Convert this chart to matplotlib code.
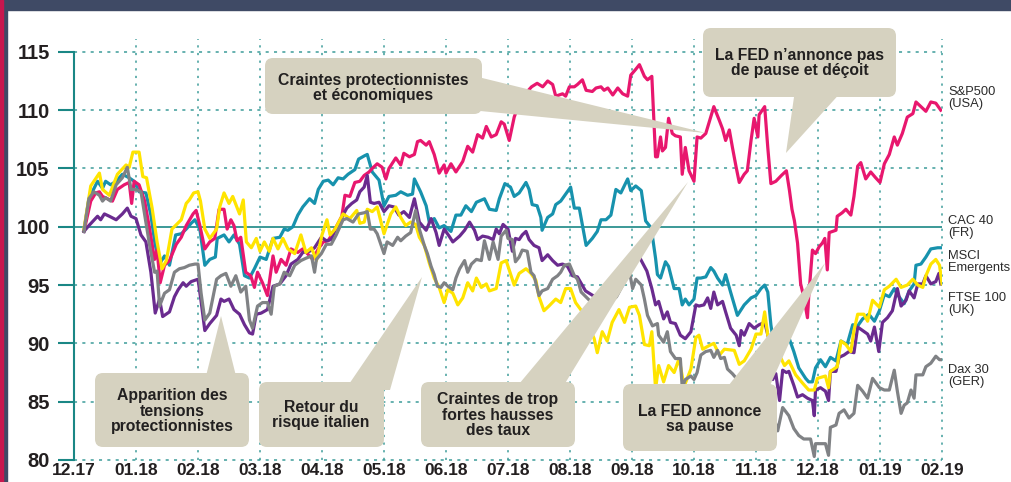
import matplotlib
matplotlib.use('Agg')
import matplotlib.pyplot as plt
from matplotlib.patches import Rectangle, FancyBboxPatch, Polygon
from matplotlib.transforms import Affine2D

plt.rcParams['font.family'] = ['Liberation Sans', 'DejaVu Sans']
plt.rcParams['lines.scale_dashes'] = False

# months since 12.17
month_labels = ['12.17', '01.18', '02.18', '03.18', '04.18', '05.18', '06.18', '07.18',
                '08.18', '09.18', '10.18', '11.18', '12.18', '01.19', '02.19']
y_ticks = [80, 85, 90, 95, 100, 105, 110, 115]

# S&P500 (USA)
sp_t = [0.16, 0.27, 0.35, 0.41, 0.46, 0.54, 0.62, 0.70, 0.81, 0.89, 0.93, 0.97, 1.05, 1.14, 1.22, 1.30, 1.34, 1.39,
        1.46, 1.54, 1.65, 1.73, 1.81, 1.92, 1.97, 2.03, 2.11, 2.19, 2.27, 2.34, 2.42, 2.47, 2.53, 2.58, 2.63, 2.69,
        2.77, 2.85, 2.91, 2.96, 3.04, 3.12, 3.21, 3.26, 3.34, 3.42, 3.50, 3.61, 3.69, 3.80, 3.85, 3.94, 4.02, 4.10,
        4.21, 4.32, 4.37, 4.45, 4.53, 4.61, 4.68, 4.76, 4.81, 4.89, 4.97, 5.03, 5.08, 5.19, 5.27, 5.32, 5.41, 5.49,
        5.54, 5.59, 5.68, 5.73, 5.81, 5.89, 5.97, 6.00, 6.08, 6.16, 6.27, 6.35, 6.43, 6.51, 6.59, 6.65, 6.73, 6.81,
        6.89, 6.94, 7.02, 7.10, 7.18, 7.26, 7.38, 7.47, 7.56, 7.64, 7.72, 7.77, 7.88, 7.93, 7.99, 8.07, 8.12, 8.20,
        8.26, 8.36, 8.42, 8.50, 8.55, 8.61, 8.69, 8.77, 8.85, 8.93, 8.98, 9.06, 9.12, 9.20, 9.25, 9.32, 9.38, 9.41,
        9.46, 9.49, 9.54, 9.59, 9.65, 9.70, 9.78, 9.81, 9.86, 9.92, 10.00, 10.05, 10.11, 10.19, 10.27, 10.32, 10.41,
        10.46, 10.51, 10.57, 10.62, 10.68, 10.73, 10.81, 10.86, 10.92, 10.97, 11.03, 11.05, 11.14, 11.19, 11.24,
        11.32, 11.41, 11.49, 11.54, 11.58, 11.62, 11.67, 11.72, 11.77, 11.83, 11.85, 11.91, 11.96, 12.02, 12.07,
        12.11, 12.15, 12.18, 12.29, 12.31, 12.39, 12.45, 12.53, 12.58, 12.64, 12.69, 12.77, 12.85, 12.93, 13.00,
        13.07, 13.15, 13.23, 13.28, 13.36, 13.44, 13.53, 13.58, 13.66, 13.74, 13.82, 13.90, 13.98]
sp_v = [99.6, 102.2, 102.9, 103.0, 102.6, 102.4, 102.2, 103.2, 103.6, 103.8, 102.0, 103.9, 103.6, 102.2, 99.8, 97.2,
        98.0, 95.2, 96.7, 97.1, 98.5, 99.1, 100.1, 101.1, 101.4, 100.1, 98.1, 98.7, 99.0, 101.5, 101.5, 99.8, 100.6,
        100.1, 98.8, 99.1, 96.1, 95.8, 94.8, 96.1, 95.2, 94.1, 97.5, 96.1, 97.2, 96.7, 98.1, 97.8, 98.1, 97.5, 97.2,
        98.1, 98.7, 98.8, 99.8, 100.9, 102.7, 102.6, 103.8, 103.9, 104.4, 104.7, 105.0, 105.4, 105.1, 104.1, 105.0,
        105.9, 105.3, 106.3, 106.0, 106.2, 107.3, 107.4, 107.0, 107.3, 106.2, 104.6, 105.3, 104.6, 105.4, 104.7,
        105.6, 106.9, 106.4, 107.9, 107.6, 108.6, 107.7, 107.9, 109.0, 108.8, 107.4, 109.4, 110.6, 111.3, 112.0,
        112.3, 112.0, 112.5, 112.2, 111.2, 111.4, 111.2, 112.0, 112.0, 112.2, 112.6, 111.7, 111.6, 111.9, 112.0,
        111.7, 111.9, 111.3, 111.9, 111.4, 111.2, 113.0, 113.5, 113.9, 112.9, 112.6, 112.9, 106.0, 106.0, 107.7,
        106.5, 106.8, 109.3, 108.0, 107.8, 107.7, 104.5, 106.8, 104.8, 103.9, 107.7, 107.6, 108.0, 109.4, 110.3,
        109.1, 108.4, 107.4, 108.3, 106.8, 105.1, 103.8, 104.5, 104.8, 107.4, 109.3, 107.7, 109.6, 110.3, 106.8,
        103.7, 103.9, 104.4, 104.8, 103.1, 101.5, 100.5, 98.6, 95.1, 94.0, 92.2, 94.0, 98.0, 97.7, 98.3, 98.6, 99.0,
        96.3, 99.5, 99.7, 100.9, 101.2, 101.5, 101.0, 102.6, 105.2, 105.5, 104.1, 104.7, 104.2, 103.8, 105.4, 106.2,
        107.7, 107.0, 108.0, 109.4, 109.7, 110.7, 110.3, 109.9, 110.7, 110.6, 110.0]

# CAC 40 (FR)
cac_t = [0.16, 0.24, 0.38, 0.46, 0.51, 0.59, 0.68, 0.78, 0.89, 0.97, 1.05, 1.16, 1.24, 1.31, 1.39, 1.46, 1.54, 1.64,
         1.73, 1.81, 1.89, 1.95, 2.03, 2.11, 2.19, 2.28, 2.31, 2.42, 2.50, 2.58, 2.67, 2.75, 2.83, 2.91, 3.00, 3.10,
         3.21, 3.32, 3.39, 3.45, 3.53, 3.61, 3.69, 3.80, 3.88, 3.94, 4.02, 4.10, 4.18, 4.26, 4.34, 4.42, 4.53, 4.59,
         4.69, 4.73, 4.81, 4.92, 5.00, 5.08, 5.19, 5.27, 5.38, 5.46, 5.49, 5.59, 5.68, 5.73, 5.81, 5.89, 5.97, 6.08,
         6.16, 6.24, 6.32, 6.41, 6.49, 6.62, 6.70, 6.81, 6.86, 6.95, 7.04, 7.10, 7.18, 7.29, 7.34, 7.39, 7.47, 7.53,
         7.55, 7.64, 7.72, 7.77, 7.85, 7.93, 8.01, 8.07, 8.15, 8.26, 8.36, 8.44, 8.50, 8.58, 8.66, 8.74, 8.82, 8.93,
         8.98, 9.06, 9.15, 9.22, 9.31, 9.38, 9.41, 9.46, 9.54, 9.59, 9.68, 9.76, 9.81, 9.86, 9.92, 10.00, 10.05,
         10.11, 10.19, 10.27, 10.32, 10.38, 10.46, 10.51, 10.59, 10.70, 10.81, 10.92, 11.00, 11.08, 11.14, 11.19,
         11.24, 11.30, 11.41, 11.53, 11.61, 11.69, 11.80, 11.85, 11.91, 11.96, 12.04, 12.12, 12.20, 12.29, 12.37,
         12.47, 12.56, 12.64, 12.72, 12.82, 12.91, 12.99, 13.07, 13.15, 13.23, 13.28, 13.39, 13.47, 13.55, 13.58,
         13.66, 13.74, 13.82, 13.93, 14.00]
cac_v = [99.6, 102.4, 103.9, 103.3, 103.9, 103.6, 103.9, 104.5, 104.2, 103.9, 103.0, 102.9, 101.0, 98.4, 96.9, 97.5,
         96.7, 99.3, 99.4, 99.8, 100.3, 100.6, 99.8, 96.7, 97.2, 97.4, 99.0, 99.3, 98.7, 99.3, 98.5, 95.8, 95.6, 96.4,
         97.4, 97.2, 99.0, 99.1, 99.8, 99.7, 100.0, 101.0, 101.7, 102.4, 102.0, 103.2, 103.9, 104.0, 103.6, 104.2,
         104.1, 104.5, 104.9, 105.8, 106.1, 106.2, 104.7, 104.0, 101.8, 102.6, 102.7, 103.0, 102.7, 102.8, 104.1,
         103.0, 101.8, 100.4, 100.7, 99.9, 100.1, 99.6, 101.0, 101.0, 101.8, 101.3, 102.1, 102.4, 101.5, 101.4, 102.4,
         103.7, 103.4, 102.6, 102.9, 103.8, 103.2, 101.9, 101.8, 100.8, 99.7, 100.8, 101.1, 101.9, 102.2, 102.8,
         103.4, 101.6, 101.6, 98.4, 99.0, 99.6, 100.6, 100.6, 101.0, 103.2, 102.9, 104.1, 103.1, 103.5, 103.1, 100.5,
         99.9, 97.3, 95.9, 95.6, 97.0, 96.6, 94.7, 94.7, 93.3, 93.8, 93.3, 93.8, 95.6, 95.6, 95.7, 96.5, 96.2, 95.6,
         95.0, 95.9, 94.4, 92.4, 93.3, 93.9, 94.1, 94.7, 95.0, 94.4, 91.6, 89.5, 90.4, 90.5, 89.3, 87.9, 87.0, 86.7,
         86.7, 87.9, 88.6, 88.0, 88.8, 88.5, 90.2, 89.9, 91.6, 91.5, 92.1, 92.5, 91.9, 92.8, 94.2, 94.0, 94.7, 94.2,
         93.4, 94.5, 95.1, 96.7, 96.8, 97.4, 98.1, 98.2, 98.2]

# MSCI Emergents
msci_t = [0.16, 0.27, 0.41, 0.46, 0.57, 0.70, 0.84, 0.89, 0.95, 1.05, 1.11, 1.17, 1.26, 1.34, 1.42, 1.49, 1.58, 1.73,
          1.81, 1.86, 1.93, 2.00, 2.04, 2.11, 2.19, 2.30, 2.35, 2.42, 2.50, 2.56, 2.67, 2.73, 2.78, 2.86, 2.94, 3.00,
          3.07, 3.15, 3.21, 3.29, 3.37, 3.45, 3.56, 3.66, 3.74, 3.83, 3.91, 4.00, 4.08, 4.13, 4.21, 4.34, 4.45, 4.56,
          4.61, 4.68, 4.73, 4.81, 4.89, 5.00, 5.11, 5.19, 5.27, 5.35, 5.43, 5.51, 5.57, 5.65, 5.73, 5.81, 5.89, 5.97,
          6.03, 6.11, 6.19, 6.27, 6.35, 6.43, 6.49, 6.57, 6.65, 6.70, 6.81, 6.89, 6.97, 7.10, 7.18, 7.29, 7.37, 7.45,
          7.50, 7.58, 7.66, 7.77, 7.85, 7.93, 8.01, 8.09, 8.20, 8.31, 8.39, 8.44, 8.52, 8.60, 8.68, 8.79, 8.88, 8.96,
          9.06, 9.12, 9.20, 9.28, 9.32, 9.38, 9.43, 9.51, 9.59, 9.68, 9.76, 9.84, 9.95, 10.03, 10.08, 10.14, 10.24,
          10.32, 10.41, 10.49, 10.65, 10.73, 10.81, 10.92, 11.00, 11.08, 11.14, 11.19, 11.27, 11.35, 11.46, 11.53,
          11.64, 11.75, 11.85, 11.94, 11.99, 12.12, 12.17, 12.20, 12.31, 12.37, 12.45, 12.53, 12.58, 12.64, 12.74,
          12.80, 12.88, 12.99, 13.07, 13.15, 13.26, 13.34, 13.44, 13.53, 13.61, 13.69, 13.74, 13.82, 13.90, 13.96,
          14.00]
msci_v = [99.8, 103.5, 104.6, 103.2, 102.7, 104.5, 105.3, 105.1, 106.4, 106.4, 104.3, 104.2, 101.6, 98.7, 96.4, 97.1,
          99.8, 100.6, 102.0, 102.3, 102.9, 103.0, 102.2, 99.8, 99.0, 99.8, 101.7, 102.9, 102.0, 102.6, 101.1, 102.3,
          98.7, 98.2, 99.0, 97.9, 98.7, 97.9, 99.0, 98.1, 99.0, 98.1, 97.7, 99.3, 97.8, 98.2, 97.1, 99.3, 100.6, 99.3,
          99.8, 101.1, 100.7, 101.4, 100.3, 100.4, 101.5, 101.3, 101.7, 99.4, 101.1, 101.7, 100.8, 100.1, 100.4, 100.2,
          99.1, 98.4, 96.9, 95.6, 94.8, 93.5, 94.6, 94.3, 93.3, 93.9, 95.2, 94.5, 95.6, 94.8, 95.1, 94.5, 94.7, 96.9,
          97.1, 95.0, 96.0, 96.4, 96.0, 95.4, 94.0, 92.8, 93.2, 93.8, 93.5, 94.7, 94.7, 93.5, 92.7, 91.4, 90.4, 89.2,
          91.0, 90.2, 91.8, 92.9, 91.8, 93.1, 93.2, 92.4, 89.9, 89.8, 91.0, 86.1, 88.1, 86.7, 88.1, 87.5, 88.7, 86.3,
          87.8, 90.5, 90.7, 89.5, 89.8, 90.0, 89.0, 89.5, 89.4, 88.2, 88.5, 89.5, 90.8, 90.8, 92.7, 90.7, 89.8, 89.3,
          88.1, 88.5, 87.3, 86.6, 86.0, 86.0, 87.0, 87.2, 86.2, 87.6, 88.0, 90.2, 89.9, 89.3, 91.1, 92.5, 92.5, 91.9,
          93.7, 93.1, 94.6, 94.9, 95.5, 94.8, 95.0, 95.5, 95.0, 94.8, 95.8, 96.8, 97.2, 96.7, 95.1]

# FTSE 100 (UK)
ftse_t = [0.16, 0.24, 0.38, 0.43, 0.49, 0.57, 0.68, 0.78, 0.86, 0.92, 1.00, 1.08, 1.16, 1.24, 1.31, 1.38, 1.43, 1.54,
          1.62, 1.68, 1.76, 1.81, 1.89, 2.00, 2.05, 2.11, 2.19, 2.30, 2.37, 2.42, 2.50, 2.58, 2.67, 2.75, 2.83, 2.88,
          2.94, 3.02, 3.12, 3.21, 3.32, 3.42, 3.50, 3.61, 3.69, 3.80, 3.88, 3.99, 4.07, 4.15, 4.21, 4.31, 4.40, 4.48,
          4.56, 4.61, 4.68, 4.73, 4.78, 4.84, 4.92, 5.00, 5.08, 5.16, 5.24, 5.32, 5.41, 5.49, 5.57, 5.68, 5.76, 5.84,
          5.89, 5.97, 6.05, 6.11, 6.22, 6.30, 6.38, 6.46, 6.51, 6.59, 6.68, 6.76, 6.81, 6.86, 6.92, 7.00, 7.07, 7.12,
          7.18, 7.23, 7.29, 7.34, 7.42, 7.50, 7.55, 7.64, 7.72, 7.80, 7.88, 7.96, 8.04, 8.12, 8.25, 8.40, 8.55, 8.70,
          8.85, 9.00, 9.12, 9.19, 9.24, 9.32, 9.38, 9.43, 9.51, 9.57, 9.62, 9.70, 9.78, 9.86, 9.95, 10.03, 10.08,
          10.16, 10.22, 10.27, 10.32, 10.38, 10.46, 10.51, 10.59, 10.68, 10.73, 10.76, 10.81, 10.89, 10.97, 11.05,
          11.14, 11.22, 11.27, 11.32, 11.38, 11.43, 11.49, 11.53, 11.61, 11.67, 11.75, 11.83, 11.91, 11.94, 11.96,
          12.04, 12.12, 12.17, 12.20, 12.29, 12.34, 12.42, 12.50, 12.58, 12.64, 12.72, 12.80, 12.85, 12.91, 12.98,
          13.04, 13.12, 13.20, 13.28, 13.34, 13.42, 13.47, 13.55, 13.61, 13.69, 13.74, 13.82, 13.90, 13.95, 13.98]
ftse_v = [99.6, 100.1, 100.9, 100.6, 101.1, 100.9, 100.6, 101.1, 101.6, 100.9, 100.7, 99.3, 98.7, 96.1, 92.6, 93.8,
          92.3, 92.7, 94.0, 94.6, 95.2, 94.9, 95.3, 95.5, 93.6, 91.1, 91.7, 92.4, 93.8, 93.6, 93.8, 92.9, 92.5, 91.6,
          90.9, 90.8, 92.5, 92.6, 92.9, 94.9, 95.1, 95.8, 96.8, 97.2, 97.8, 97.9, 98.2, 99.1, 98.8, 98.9, 99.7, 100.7,
          101.6, 102.0, 102.3, 103.0, 103.4, 104.4, 102.1, 102.0, 102.1, 101.3, 101.8, 101.7, 101.0, 101.3, 100.8,
          102.4, 100.4, 99.7, 100.7, 99.5, 98.4, 99.8, 99.2, 98.7, 99.2, 99.7, 100.4, 99.7, 98.9, 99.2, 99.1, 98.9,
          99.8, 99.4, 100.2, 99.8, 97.9, 99.0, 98.9, 99.3, 99.6, 98.9, 98.4, 98.2, 97.1, 97.6, 97.1, 96.7, 96.8, 96.6,
          95.8, 95.7, 94.5, 94.0, 93.5, 94.3, 95.8, 96.5, 97.4, 96.7, 96.2, 94.7, 93.3, 93.6, 92.1, 92.7, 91.8, 91.7,
          90.7, 90.4, 91.0, 93.3, 93.2, 93.3, 93.9, 93.0, 94.4, 93.3, 93.6, 92.7, 91.3, 90.7, 89.8, 91.1, 90.7, 91.7,
          91.3, 91.6, 91.8, 90.1, 86.9, 87.4, 85.1, 87.7, 87.5, 87.6, 86.4, 85.4, 85.6, 85.3, 85.1, 83.8, 86.0, 86.2,
          85.9, 85.1, 87.6, 87.6, 88.8, 89.0, 89.3, 89.2, 91.4, 91.1, 90.8, 90.2, 91.4, 89.3, 91.8, 92.2, 92.8, 94.7,
          93.2, 93.7, 94.5, 93.9, 95.1, 95.1, 95.8, 95.1, 95.3, 96.0, 95.1]

# Dax 30 (GER)
dax_t = [0.16, 0.24, 0.32, 0.41, 0.46, 0.51, 0.59, 0.68, 0.78, 0.86, 0.92, 1.00, 1.08, 1.16, 1.22, 1.30, 1.34, 1.38,
         1.46, 1.54, 1.62, 1.70, 1.78, 1.86, 1.95, 2.00, 2.05, 2.11, 2.19, 2.30, 2.37, 2.45, 2.53, 2.61, 2.69, 2.77,
         2.83, 2.88, 2.96, 3.04, 3.12, 3.18, 3.23, 3.32, 3.39, 3.48, 3.56, 3.66, 3.74, 3.83, 3.88, 3.91, 3.99, 4.07,
         4.15, 4.23, 4.34, 4.40, 4.50, 4.59, 4.68, 4.73, 4.78, 4.84, 4.89, 5.00, 5.05, 5.14, 5.22, 5.27, 5.35, 5.43,
         5.51, 5.57, 5.65, 5.70, 5.76, 5.81, 5.86, 5.92, 5.97, 6.03, 6.11, 6.16, 6.22, 6.30, 6.35, 6.41, 6.49, 6.57,
         6.62, 6.70, 6.76, 6.84, 6.89, 6.97, 7.00, 7.07, 7.12, 7.18, 7.23, 7.31, 7.37, 7.42, 7.50, 7.55, 7.64, 7.72,
         7.80, 7.85, 7.91, 7.99, 8.07, 8.12, 8.18, 8.35, 8.55, 8.75, 8.96, 9.01, 9.06, 9.15, 9.20, 9.25, 9.33, 9.41,
         9.43, 9.51, 9.57, 9.62, 9.70, 9.78, 9.81, 9.86, 9.95, 10.00, 10.05, 10.11, 10.19, 10.27, 10.32, 10.38,
         10.43, 10.49, 10.54, 10.62, 10.70, 10.85, 11.00, 11.15, 11.27, 11.35, 11.43, 11.53, 11.61, 11.69, 11.77,
         11.88, 11.94, 11.96, 12.04, 12.12, 12.17, 12.20, 12.29, 12.34, 12.42, 12.50, 12.58, 12.64, 12.72, 12.80,
         12.88, 12.99, 13.07, 13.15, 13.23, 13.28, 13.34, 13.39, 13.44, 13.50, 13.55, 13.58, 13.69, 13.74, 13.82,
         13.90, 13.96, 14.00]
dax_v = [99.6, 102.4, 103.0, 102.7, 102.2, 102.5, 102.2, 103.6, 104.2, 105.1, 103.2, 103.2, 103.0, 100.4, 98.4, 96.1,
         96.2, 93.2, 94.3, 94.6, 96.1, 96.4, 96.5, 96.7, 96.8, 96.8, 94.3, 92.0, 92.6, 95.5, 95.8, 96.0, 94.9, 95.8,
         94.4, 94.9, 92.0, 91.3, 93.2, 93.5, 93.5, 92.5, 94.9, 95.1, 96.1, 95.8, 96.7, 97.1, 97.3, 97.5, 96.1, 97.2,
         97.7, 98.5, 98.5, 99.3, 100.6, 100.7, 100.4, 101.1, 101.2, 101.3, 99.8, 99.8, 99.4, 97.7, 98.7, 98.4, 99.1,
         98.8, 99.2, 99.5, 101.4, 99.8, 98.4, 97.7, 96.6, 95.9, 94.9, 94.8, 95.2, 94.9, 94.6, 95.6, 96.4, 97.1, 96.1,
         96.8, 97.2, 97.1, 98.8, 97.2, 98.7, 97.2, 99.2, 99.7, 99.0, 98.9, 97.0, 97.4, 98.0, 97.9, 96.1, 95.8, 94.1,
         94.5, 94.7, 95.5, 95.8, 96.1, 96.7, 96.8, 95.8, 95.5, 94.4, 93.5, 93.0, 94.0, 96.1, 94.7, 95.5, 95.0, 93.8,
         92.4, 91.5, 91.7, 90.7, 90.1, 91.0, 89.3, 88.7, 88.7, 86.2, 86.9, 87.2, 86.9, 87.5, 89.0, 89.3, 89.4, 88.8,
         89.4, 88.7, 88.8, 87.8, 87.4, 86.9, 86.0, 86.4, 85.5, 84.0, 82.5, 84.5, 83.8, 82.7, 82.1, 81.8, 81.8, 80.3,
         81.4, 81.4, 81.4, 80.4, 82.8, 83.0, 84.0, 84.3, 83.6, 84.0, 86.4, 85.9, 85.3, 87.0, 86.2, 86.0, 86.0, 87.7,
         85.9, 84.0, 84.7, 84.9, 86.0, 85.3, 87.3, 87.3, 88.0, 88.3, 88.9, 88.6, 88.6]

series = [
    (cac_t, cac_v, '#1792ad'),
    (sp_t, sp_v, '#e8176e'),
    (ftse_t, ftse_v, '#6a2b8f'),
    (msci_t, msci_v, '#ffe400'),
    (dax_t, dax_v, '#808285'),
]

right_labels = [('S&P500\n(USA)', 111.0), ('CAC 40\n(FR)', 100.0), ('MSCI\nEmergents', 97.0),
                ('FTSE 100\n(UK)', 93.4), ('Dax 30\n(GER)', 87.2)]

callouts = [
    # text, box (x, y, w, h) in px, text centre, tail polygon
    ('Craintes protectionnistes\net économiques', (265, 58, 217, 56), (373, 88),
     [(470, 75), (706, 133), (470, 110)]),
    ('La FED n’annonce pas\nde pause et déçoit', (703, 28, 193, 69), (800, 63),
     [(795, 90), (843, 90), (786, 153)]),
    ('Apparition des\ntensions\nprotectionnistes', (95, 373, 154, 74), (172, 411),
     [(205, 380), (237, 380), (221, 316)]),
    ('Retour du\nrisque italien', (259, 382, 125, 65), (321, 415),
     [(345, 390), (390, 390), (422, 277)]),
    ('Craintes de trop\nfortes hausses\ndes taux', (421, 382, 154, 65), (498, 415),
     [(514, 390), (561, 390), (688, 182)]),
    ('La FED annonce\nsa pause', (623, 384, 154, 67), (700, 419),
     [(725, 390), (768, 390), (825, 263)]),
]

W, H = 1012, 482
teal = '#1a8785'
grid_c = '#3d9c9a'
fig = plt.figure(figsize=(W / 100, H / 100), dpi=100)
pix = Affine2D().scale(1 / W, -1 / H).translate(0, 1) + fig.transFigure

# frame strips
fig.add_artist(Rectangle((0, 0), W, 10, transform=pix, color='#3f4a65', zorder=0))
fig.add_artist(Rectangle((0, 0), 7, H, transform=pix, color='#3f4a65', zorder=0))
fig.add_artist(Rectangle((0, 0), 3, H, transform=pix, color='#c8174e', zorder=0))

ax = fig.add_axes([74 / W, 1 - 460 / H, (942 - 74) / W, (460 - 39) / H])
ax.set_xlim(0, 14)
ax.set_ylim(80, 116.1)
ax.patch.set_alpha(0)

for s in ['top', 'right', 'bottom']:
    ax.spines[s].set_visible(False)
ax.spines['left'].set_bounds(80, 115)
ax.spines['left'].set_color(teal)
ax.spines['left'].set_linewidth(1.5)

ax.set_yticks(y_ticks)
ax.set_yticklabels([str(v) for v in y_ticks], fontweight='bold', fontsize=14.5, color='#231f20')
ax.tick_params(axis='y', length=11.5, width=1.5, color=teal, pad=6)
ax.set_xticks(range(len(month_labels)))
ax.set_xticklabels(month_labels, fontweight='bold', fontsize=12.5, color='#231f20')
ax.tick_params(axis='x', length=0, pad=2)

for v in y_ticks:
    if v == 100:
        ax.axhline(v, color=teal, lw=1.2, zorder=2)
    else:
        ax.axhline(v, color=grid_c, lw=1.1, ls=(0, (2.2, 3.8)), zorder=1, clip_on=False)
for m in range(1, len(month_labels)):
    ax.axvline(m, color=grid_c, lw=1.1, ls=(0, (1.6, 3.9)), zorder=1, clip_on=False)

for t, v, c in series:
    ax.plot(t, v, color=c, lw=2.3, zorder=3, solid_joinstyle='round')

for txt, yv in right_labels:
    ax.text(14.1, yv, txt, fontsize=9.3, color='#2b2b2b', va='center', ha='left',
            linespacing=1.0, clip_on=False)

for txt, (bx, by, bw, bh), (tx, ty), tail in callouts:
    fig.add_artist(Polygon(tail, closed=True, transform=pix, color='#d6d2c0', lw=0, zorder=5))
    fig.add_artist(FancyBboxPatch((bx, by), bw, bh, boxstyle='round,pad=0,rounding_size=8',
                                  transform=pix, color='#d6d2c0', lw=0, zorder=5))
    fig.text(tx / W, 1 - ty / H, txt, fontsize=11.3, fontweight='bold', color='#222020',
             ha='center', va='center', linespacing=1.08, zorder=6)

fig.savefig('out.png', dpi=100)
